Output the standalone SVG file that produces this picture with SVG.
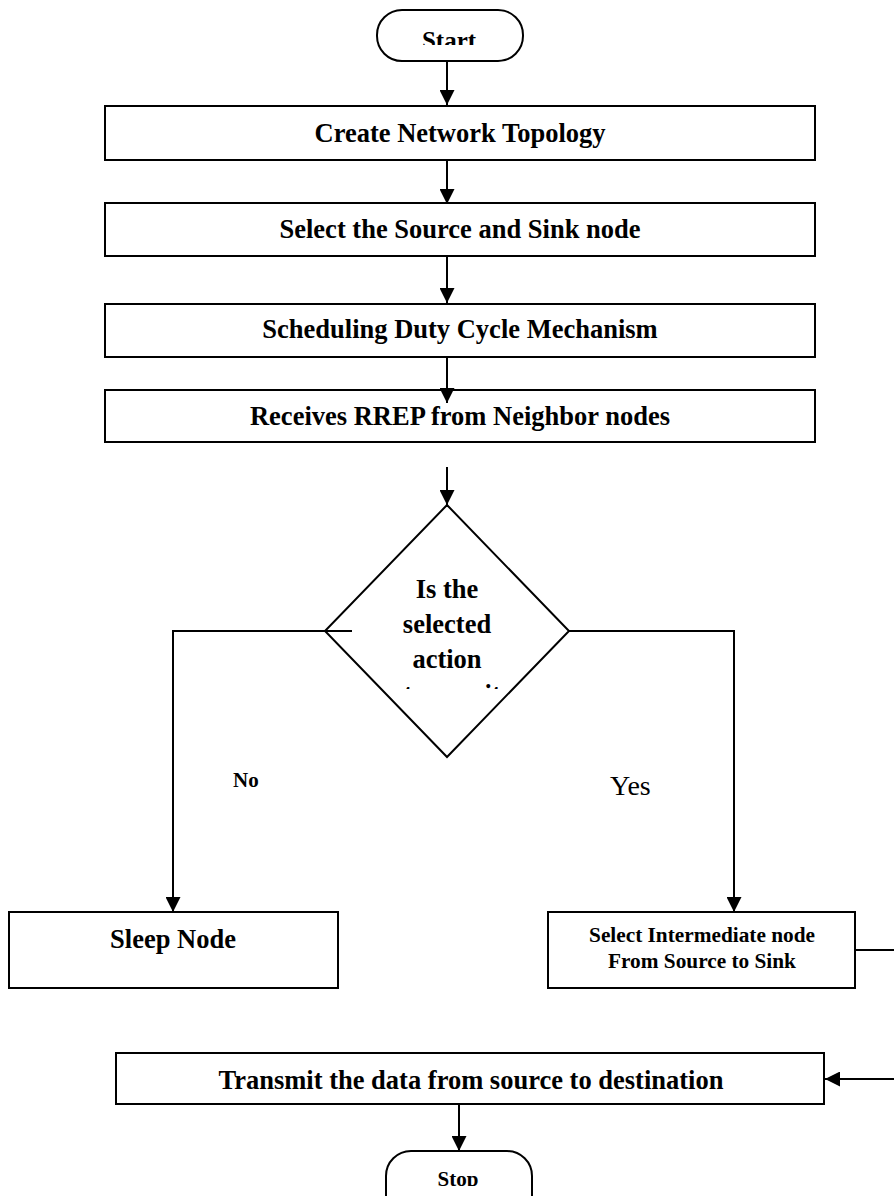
<svg xmlns="http://www.w3.org/2000/svg" width="894" height="1196" viewBox="0 0 894 1196">
<style>
.box{fill:#fff;stroke:#000;stroke-width:2}
.t{font-family:"Liberation Serif","Times New Roman",serif;font-weight:bold;font-size:26.5px;fill:#000;text-anchor:middle}
.s{font-size:21.3px}
.c{fill:none;stroke:#000;stroke-width:2}
</style>
<defs>
<marker id="ah" viewBox="0 0 10 10" refX="10" refY="5" markerUnits="userSpaceOnUse" markerWidth="16" markerHeight="15" orient="auto">
<path d="M0,0 L10,5 L0,10 z" fill="#000"/>
</marker>
<clipPath id="clipStart"><rect x="370" y="0" width="160" height="45"/></clipPath>
<clipPath id="clipStop"><rect x="380" y="1140" width="160" height="46"/></clipPath>
<clipPath id="clipDia"><rect x="300" y="500" width="300" height="189"/></clipPath>
</defs>
<rect width="894" height="1196" fill="#fff"/>

<g id="start">
<rect class="box" x="377" y="10" width="146" height="51" rx="25" ry="25"/>
<text class="t" x="449" y="49" style="font-size:25px" clip-path="url(#clipStart)">Start</text>
</g>

<g id="create">
<rect class="box" x="105" y="106" width="710" height="54"/>
<text class="t" x="460" y="142">Create Network Topology</text>
</g>

<g id="select">
<rect class="box" x="105" y="203" width="710" height="53"/>
<text class="t" x="460" y="238">Select the Source and Sink node</text>
</g>

<g id="schedule">
<rect class="box" x="105" y="304" width="710" height="53"/>
<text class="t" x="460" y="338">Scheduling Duty Cycle Mechanism</text>
</g>

<g id="receive">
<rect class="box" x="105" y="390" width="710" height="52"/>
<text class="t" x="460" y="425">Receives RREP from Neighbor nodes</text>
</g>

<g id="decision">
<polygon class="box" points="447,505 569,631 447,757 325,631"/>
<text class="t" x="447" y="598">Is the</text>
<text class="t" x="447" y="633">selected</text>
<text class="t" x="447" y="668">action</text>
<text class="t" x="452" y="703" clip-path="url(#clipDia)">transmit</text>
</g>

<g id="sleep">
<rect class="box" x="9" y="912" width="329" height="76"/>
<text class="t" x="173" y="948">Sleep Node</text>
</g>

<g id="intermediate">
<rect class="box" x="548" y="912" width="307" height="76"/>
<text class="t s" x="702" y="942">Select Intermediate node</text>
<text class="t s" x="702" y="968">From Source to Sink</text>
</g>

<g id="transmit">
<rect class="box" x="116" y="1053" width="708" height="51"/>
<text class="t" x="471" y="1089">Transmit the data from source to destination</text>
</g>

<g id="stop">
<rect class="box" x="386" y="1151" width="146" height="70" rx="25" ry="25"/>
<text class="t" x="458" y="1186" style="font-size:21px" clip-path="url(#clipStop)">Stop</text>
</g>

<g id="labels">
<text x="233" y="787" font-family="Liberation Serif, serif" font-weight="bold" font-size="21">No</text>
<text x="610" y="795" font-family="Liberation Serif, serif" font-size="28">Yes</text>
</g>

<g id="connectors">
<line class="c" x1="447" y1="61" x2="447" y2="105" marker-end="url(#ah)"/>
<line class="c" x1="447" y1="160" x2="447" y2="204" marker-end="url(#ah)"/>
<line class="c" x1="447" y1="256" x2="447" y2="303" marker-end="url(#ah)"/>
<line class="c" x1="447" y1="357" x2="447" y2="403" marker-end="url(#ah)"/>
<line class="c" x1="447" y1="467" x2="447" y2="505" marker-end="url(#ah)"/>
<path class="c" d="M352,631 H173 V912" marker-end="url(#ah)"/>
<path class="c" d="M569,631 H734 V912" marker-end="url(#ah)"/>
<path class="c" d="M855,950 H898 V1079 H825" marker-end="url(#ah)"/>
<line class="c" x1="459" y1="1104" x2="459" y2="1151" marker-end="url(#ah)"/>
</g>
</svg>
